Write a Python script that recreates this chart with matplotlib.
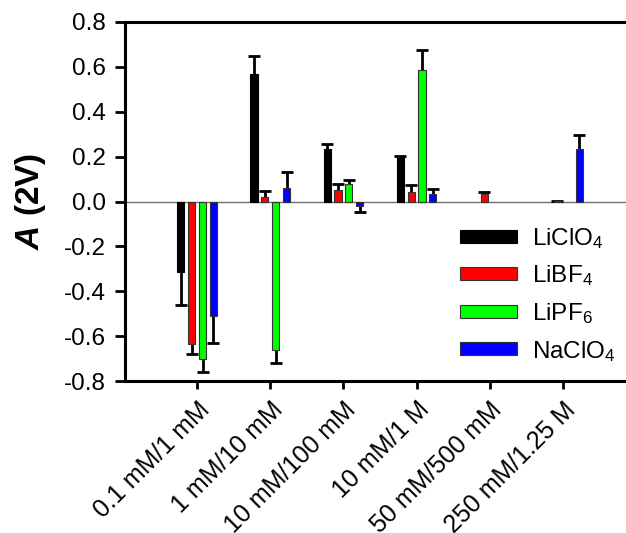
import numpy as np
import matplotlib
matplotlib.use("Agg")
import matplotlib.pyplot as plt

categories = ["0.1 mM/1 mM", "1 mM/10 mM", "10 mM/100 mM", "10 mM/1 M",
              "50 mM/500 mM", "250 mM/1.25 M"]
series_names = ["LiClO$_4$", "LiBF$_4$", "LiPF$_6$", "NaClO$_4$"]
colors = ["#000000", "#ff0000", "#00ff00", "#0000ff"]
ytick_labels = ["-0.8", "-0.6", "-0.4", "-0.2", "0.0", "0.2", "0.4", "0.6", "0.8"]

liclo4 = [-0.312, 0.569, 0.235, 0.202, 0.0, 0.0]
liclo4_err = [0.150, 0.080, 0.022, 0.003, 0.0, 0.0]
libf4 = [-0.634, 0.022, 0.052, 0.042, 0.034, 0.003]
libf4_err = [0.045, 0.024, 0.024, 0.032, 0.007, 0.001]
lipf6 = [-0.700, -0.661, 0.076, 0.584, 0.0, 0.0]
lipf6_err = [0.060, 0.060, 0.021, 0.093, 0.0, 0.0]
naclo4 = [-0.512, 0.059, -0.019, 0.034, 0.0, 0.232]
naclo4_err = [0.117, 0.072, 0.026, 0.023, 0.0, 0.063]

values = [liclo4, libf4, lipf6, naclo4]
errors = [liclo4_err, libf4_err, lipf6_err, naclo4_err]

plt.rcParams['font.family'] = ['Liberation Sans', 'DejaVu Sans']
plt.rcParams['axes.unicode_minus'] = False
plt.rcParams['mathtext.fontset'] = 'custom'
plt.rcParams['mathtext.rm'] = 'Liberation Sans'
plt.rcParams['mathtext.it'] = 'Liberation Sans:italic'
plt.rcParams['mathtext.bf'] = 'Liberation Sans:bold'
plt.rcParams['mathtext.bfit'] = 'Liberation Sans:bold:italic'

fig = plt.figure(figsize=(6.26, 5.33), dpi=100)
ax = fig.add_axes([125 / 626, (533 - 381) / 533, 511 / 626, 359 / 533])

x = np.arange(len(categories))
offsets = [-1.5, -0.5, 0.5, 1.5]
step = 0.148
width = 0.098

ax.axhline(0, color="#707070", lw=1.0, zorder=1)

for vals, errs, col, name, off in zip(values, errors, colors, series_names, offsets):
    vals = np.array(vals)
    errs = np.array(errs)
    xs = x + off * step
    ax.bar(xs, vals, width=width, color=col,
           edgecolor="#333333" if col != "#000000" else "#000000",
           linewidth=np.where(vals == 0, 0.0, 0.8), label=name, zorder=3)
    draw = (vals != 0) | (errs != 0)
    pos = draw & (vals >= 0)
    neg = draw & (vals < 0)
    if pos.any():
        eb = ax.errorbar(xs[pos], vals[pos], yerr=[np.zeros(pos.sum()), errs[pos]],
                         fmt="none", ecolor="black", elinewidth=2.0, capsize=4.5,
                         capthick=2.0, zorder=2)
        eb[1][0].set_visible(False)
    if neg.any():
        eb = ax.errorbar(xs[neg], vals[neg], yerr=[errs[neg], np.zeros(neg.sum())],
                         fmt="none", ecolor="black", elinewidth=2.0, capsize=4.5,
                         capthick=2.0, zorder=2)
        eb[1][1].set_visible(False)

ax.set_xlim(-0.986, 6.0)
ax.set_ylim(-0.8, 0.8)
ax.set_yticks([float(t) for t in ytick_labels])
ax.set_yticklabels(ytick_labels)
ax.set_xticks(x)
ax.set_xticklabels(categories, rotation=45, ha="right", rotation_mode="anchor")

ax.tick_params(axis="y", direction="out", length=7, width=2.0, labelsize=17.5, pad=7)
ax.tick_params(axis="x", direction="out", length=6, width=2.0, labelsize=18, pad=6)
for s in ["left", "bottom", "top"]:
    ax.spines[s].set_linewidth(2.2)
ax.spines["right"].set_visible(False)

ax.set_ylabel(r"$\mathbfit{A}$ (2V)", fontsize=24, fontweight="bold", labelpad=11)

leg = ax.legend(loc="upper left", bbox_to_anchor=(460 / 626, (533 - 226) / 533),
                bbox_transform=fig.transFigure, frameon=False, fontsize=17.5,
                handlelength=2.35, handleheight=0.45, handletextpad=0.6,
                labelspacing=0.52, borderaxespad=0, borderpad=0)

fig.savefig("out.png", dpi=100)
